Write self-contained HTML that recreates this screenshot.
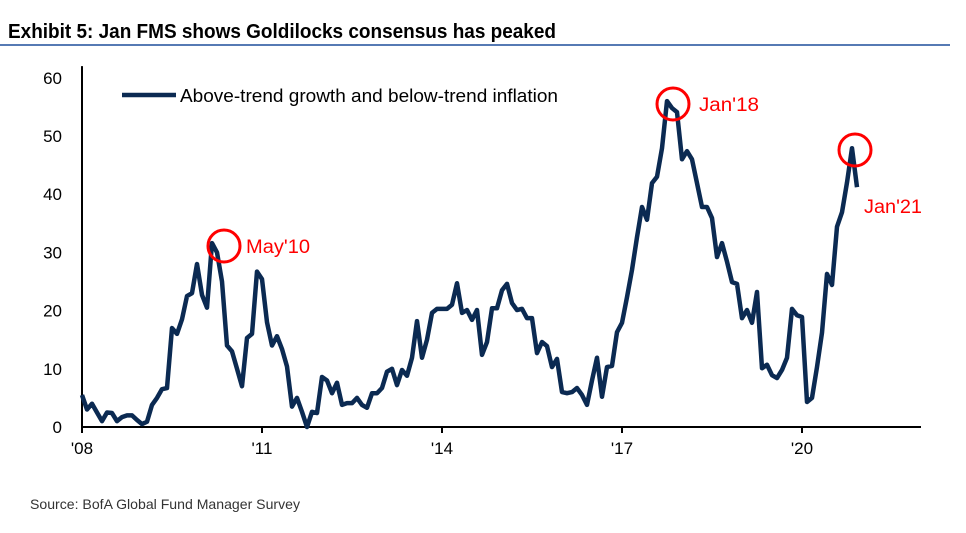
<!DOCTYPE html>
<html><head><meta charset="utf-8"><style>
body{margin:0;background:#fff;width:966px;height:528px;overflow:hidden;font-family:"Liberation Sans",sans-serif}
</style></head><body>
<svg width="966" height="528" id="svg">
<text x="8" y="38" textLength="548" lengthAdjust="spacingAndGlyphs" font-family="Liberation Sans, sans-serif" font-weight="bold" font-size="20" fill="#000">Exhibit 5: Jan FMS shows Goldilocks consensus has peaked</text>
<line x1="0" y1="45" x2="950" y2="45" stroke="#1f4e9c" stroke-width="1.5"/>
<text x="30" y="509" textLength="270" lengthAdjust="spacingAndGlyphs" font-family="Liberation Sans, sans-serif" font-size="14" fill="#333">Source: BofA Global Fund Manager Survey</text>
<g id="axes"></g>
<path id="line" fill="none" stroke="#0b2a52" stroke-width="4.5" stroke-linejoin="round"/>
<line x1="122" y1="95" x2="176" y2="95" stroke="#0b2a52" stroke-width="4.5"/>
<text x="180" y="102" textLength="378" lengthAdjust="spacingAndGlyphs" font-size="18" fill="#000">Above-trend growth and below-trend inflation</text>
<g fill="none" stroke="#f00" stroke-width="3">
<circle cx="224" cy="246" r="16"/>
<circle cx="673" cy="104" r="16"/>
<circle cx="855" cy="150" r="16"/>
</g>
<g fill="#f00" font-size="19" font-family="Liberation Sans, sans-serif">
<text x="246" y="253" textLength="64" lengthAdjust="spacingAndGlyphs">May'10</text>
<text x="699" y="111" textLength="60" lengthAdjust="spacingAndGlyphs">Jan'18</text>
<text x="864" y="213" textLength="58" lengthAdjust="spacingAndGlyphs">Jan'21</text>
</g>
</svg>
<script>
const values=[5.5,3,4,2.5,1,2.5,2.4,1,1.7,2,2,1.2,0.5,0.9,3.8,5,6.5,6.7,17,16,18.5,22.5,23,28,22.7,20.5,31.6,30,25,14,13,10,7,15.3,16,26.7,25.4,18,14,15.6,13.4,10.4,3.5,5,2.6,0,2.6,2.4,8.6,8,5.8,7.6,3.8,4.1,4.1,5,3.8,3.3,5.8,5.8,6.7,9.5,10,7.2,9.8,8.8,11.9,18.2,11.9,15,19.6,20.3,20.3,20.3,21,24.7,19.6,20.1,18.4,20.1,12.4,14.6,20.4,20.4,23.5,24.6,21.3,20.1,20.3,18.7,18.7,12.7,14.6,13.9,10.3,11.7,6,5.8,6,6.7,5.5,3.8,8,11.9,5.2,10.3,10.5,16.3,17.9,22.3,27,32.6,37.8,35.6,41.9,43,47.9,56,54.8,54.1,46,47.4,46,41.9,37.8,37.8,35.9,29.2,31.6,28.4,24.9,24.6,18.7,20.1,17.9,23.2,10.1,10.7,8.9,8.4,9.8,11.9,20.3,19.2,18.9,4.3,5,10.3,16.2,26.3,24.4,34.4,36.9,42,47.9,41.2];
const yTicks=[0,10,20,30,40,50,60];
const xTickLabels=["'08","'11","'14","'17","'20"];
const xTickYears=[2008,2011,2014,2017,2020];
const X0=82,X1=921,Y0=427,PXY=5.82,PXM=5;
const xm=m=>X0+m*PXM, yv=v=>Y0-v*PXY;
const NS="http://www.w3.org/2000/svg",ax=document.getElementById('axes');
function mk(t,a){const e=document.createElementNS(NS,t);for(const k in a)e.setAttribute(k,a[k]);ax.appendChild(e);return e;}
let e=mk('line',{x1:X0,y1:yv(62),x2:X0,y2:Y0+1,stroke:'#000','stroke-width':2});


e=mk('line',{x1:X0-1,y1:Y0,x2:X1,y2:Y0,stroke:'#000','stroke-width':2});


yTicks.forEach(v=>{const t=mk('text',{x:62,y:yv(v)+6,'text-anchor':'end','font-size':17,fill:'#000'});t.textContent=v;

});
xTickYears.forEach((yr,i)=>{const x=xm((yr-2008)*12);
const l=mk('line',{x1:x,y1:Y0,x2:x,y2:Y0+6,stroke:'#000','stroke-width':2});


const t=mk('text',{x:x,y:Y0+27,'text-anchor':'middle','font-size':17,fill:'#000'});t.textContent=xTickLabels[i];

});
document.getElementById('line').setAttribute('d',values.map((v,i)=>(i?'L':'M')+xm(i)+','+yv(v)).join(''));
</script>
</body></html>
